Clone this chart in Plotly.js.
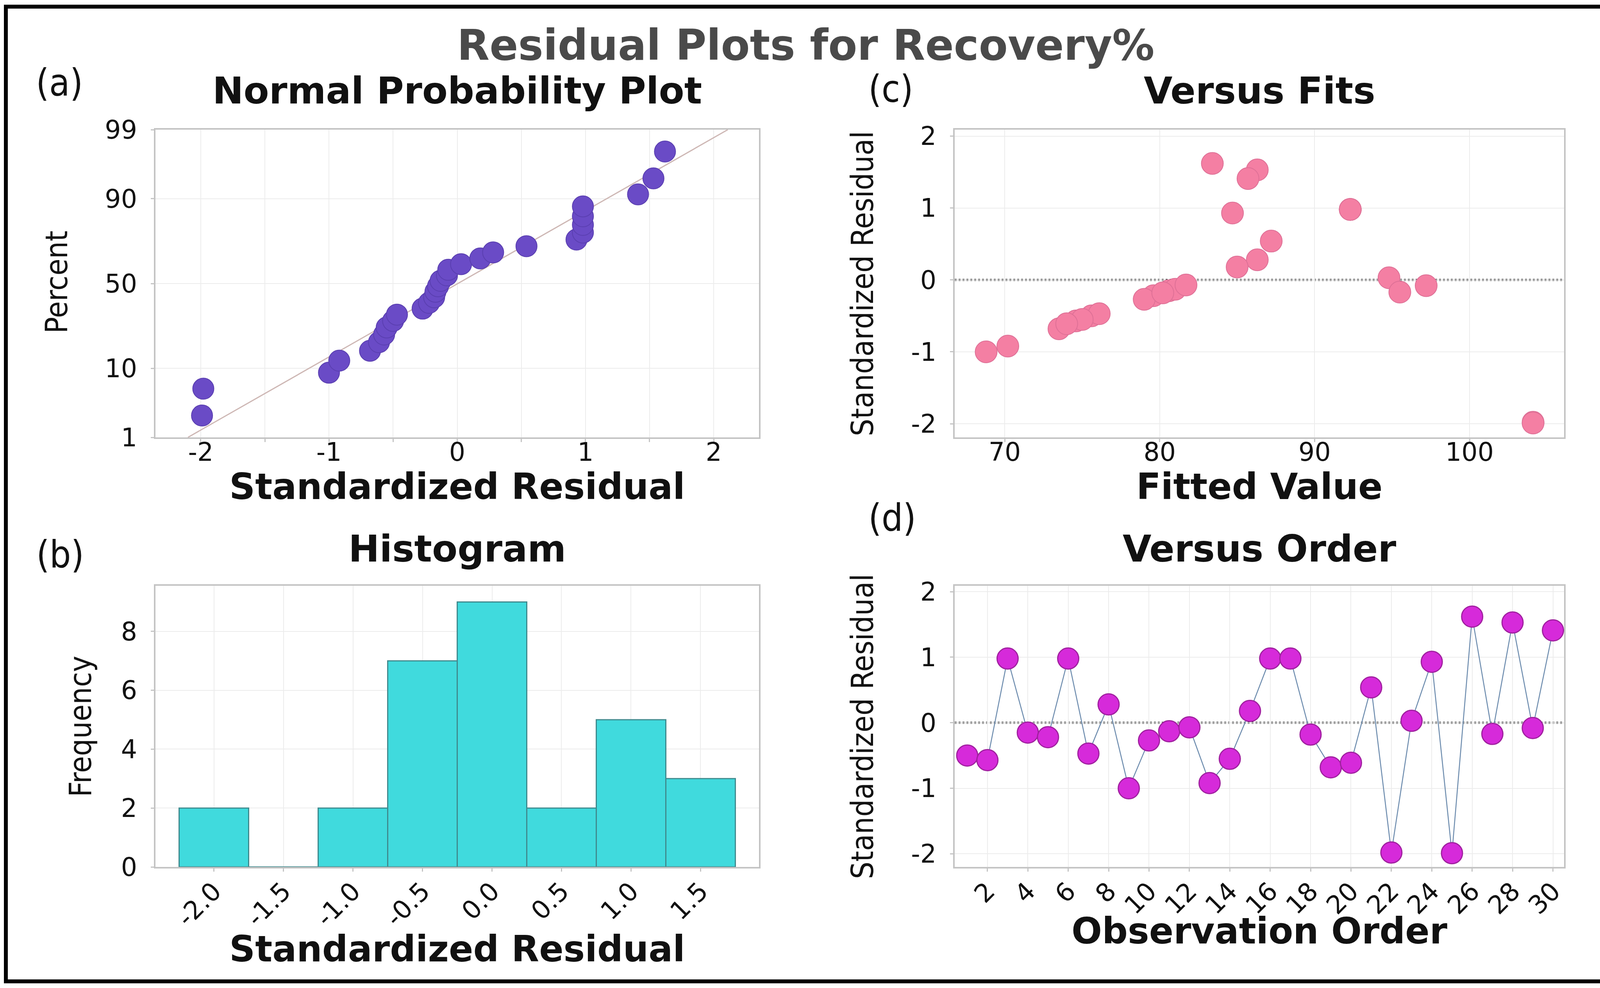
<!DOCTYPE html>
<html>
<head>
<meta charset="utf-8">
<script src="https://cdn.plot.ly/plotly-3.0.1.min.js"></script>
<style>html,body{margin:0;padding:0;background:#fff;}</style>
</head>
<body>
<div id="chart" style="width:4135px;height:2530px;"></div>
<script>
// ---------------- data ----------------
const observationOrder = [1,2,3,4,5,6,7,8,9,10,11,12,13,14,15,16,17,18,19,20,21,22,23,24,25,26,27,28,29,30];
const standardizedResidual = [-0.50,-0.57,0.98,-0.15,-0.22,0.98,-0.47,0.28,-1.00,-0.27,-0.13,-0.07,-0.92,-0.55,0.18,0.98,0.98,-0.18,-0.68,-0.61,0.54,-1.98,0.03,0.93,-1.99,1.62,-0.17,1.53,-0.08,1.41];
const fittedValue = [75.6,74.6,92.3,80.6,79.6,92.3,76.1,86.3,68.8,79.0,81.0,81.7,70.2,75.0,85.0,92.3,92.3,80.2,73.5,74.0,87.2,104.1,94.8,84.7,104.1,83.4,95.5,86.3,97.2,85.7];
// normal probability plot: percent of each ordered residual
const percentRank = [2.30,5.59,8.88,12.17,15.46,18.75,22.04,25.33,28.62,31.91,35.20,38.49,41.78,45.07,48.36,51.64,54.93,58.22,61.51,64.80,68.09,71.38,74.67,77.96,81.25,84.54,87.83,91.12,94.41,97.70];
// fitted normal reference line (residual at 1% and 99%)
const fitLineResidual = [-2.10, 2.11];
const fitLinePercent = [1, 99];
// histogram
const histBinCenters = [-2.0,-1.5,-1.0,-0.5,0.0,0.5,1.0,1.5];
const histCounts = [2,0,2,7,9,2,5,3];
const histTickLabels = ['-2.0','-1.5','-1.0','-0.5','0.0','0.5','1.0','1.5'];
// tick labels
const probTickPercent = [1,10,50,90,99];
const probTickLabels = ['1','10','50','90','99'];
const npTickVals = [-2,-1.5,-1,-0.5,0,0.5,1,1.5,2];
const npTickLabels = ['-2','','-1','','0','','1','','2'];
const fitTickVals = [70,80,90,100];
const residTickVals = [-2,-1,0,1,2];
const residTickLabels = ['-2','-1','0','1','2'];
const orderTickVals = [2,4,6,8,10,12,14,16,18,20,22,24,26,28,30];
const freqTickVals = [0,2,4,6,8];

// ---------------- probability-axis scale (inverse normal CDF) ----------------
function probit(p){
  const a=[-3.969683028665376e+01,2.209460984245205e+02,-2.759285104469687e+02,1.383577518672690e+02,-3.066479806614716e+01,2.506628277459239e+00];
  const b=[-5.447609879822406e+01,1.615858368580409e+02,-1.556989798598866e+02,6.680131188771972e+01,-1.328068155288572e+01];
  const c=[-7.784894002430293e-03,-3.223964580411365e-01,-2.400758277161838e+00,-2.549732539343734e+00,4.374664141464968e+00,2.938163982698783e+00];
  const d=[7.784695709041462e-03,3.224671290700398e-01,2.445134137142996e+00,3.754408661907416e+00];
  const pl=0.02425, ph=1-pl; let q,r;
  if(p<pl){q=Math.sqrt(-2*Math.log(p));return (((((c[0]*q+c[1])*q+c[2])*q+c[3])*q+c[4])*q+c[5])/((((d[0]*q+d[1])*q+d[2])*q+d[3])*q+1);}
  if(p<=ph){q=p-0.5;r=q*q;return (((((a[0]*r+a[1])*r+a[2])*r+a[3])*r+a[4])*r+a[5])*q/(((((b[0]*r+b[1])*r+b[2])*r+b[3])*r+b[4])*r+1);}
  q=Math.sqrt(-2*Math.log(1-p));return -(((((c[0]*q+c[1])*q+c[2])*q+c[3])*q+c[4])*q+c[5])/((((d[0]*q+d[1])*q+d[2])*q+d[3])*q+1);
}
const sortedResidual = standardizedResidual.slice().sort((u,v)=>u-v);

// ---------------- styling ----------------
const W=4135, H=2530;
const px = v => v/W, py = v => 1 - v/H;
const colA=[px(398),px(1943)], colB=[px(2444),px(4004)];
const rowTop=[py(1120),py(332)], rowBot=[py(2220),py(1500)];
const tickFont={family:'DejaVu Sans, Verdana, sans-serif', size:65, color:'#111'};
const titleFont={family:'DejaVu Sans, Verdana, sans-serif', size:92, color:'#111', weight:'bold'};
const vtitleFont={family:'Liberation Sans Narrow, DejaVu Sans Condensed, Liberation Sans, sans-serif', size:78, color:'#111'};
const labFont={family:'Liberation Sans Narrow, DejaVu Sans Condensed, Liberation Sans, sans-serif', size:96, color:'#111'};
const axBase={showline:true, mirror:true, linecolor:'#c4c4c4', linewidth:4, showgrid:true,
  gridcolor:'#ececec', gridwidth:2, zeroline:false, ticks:'outside', ticklen:8, tickwidth:3,
  tickcolor:'#c4c4c4', tickfont:tickFont, tickmode:'array', fixedrange:true};

const traces=[
  {type:'scatter', mode:'lines', x:fitLineResidual, y:fitLinePercent.map(p=>probit(p/100)),
   xaxis:'x', yaxis:'y', line:{color:'#cdb6b3', width:3}, hoverinfo:'skip'},
  {type:'scatter', mode:'markers', x:sortedResidual, y:percentRank.map(p=>probit(p/100)),
   xaxis:'x', yaxis:'y', marker:{color:'#6a4bc6', size:54, line:{color:'#5a3fb0', width:2}}},
  {type:'scatter', mode:'markers', x:fittedValue, y:standardizedResidual,
   xaxis:'x2', yaxis:'y2', marker:{color:'#f47fa3', size:56, line:{color:'#de7096', width:2}}},
  {type:'bar', x:histBinCenters, y:histCounts, width:0.5, xaxis:'x3', yaxis:'y3',
   marker:{color:'#40dadd', line:{color:'#3f8a8e', width:3}}},
  {type:'scatter', mode:'lines+markers', x:observationOrder, y:standardizedResidual,
   xaxis:'x4', yaxis:'y4', line:{color:'#6d8cae', width:2.5},
   marker:{color:'#d62ada', size:54, line:{color:'#a0209f', width:3}}}
];

const layout={
  width:W, height:H, margin:{l:0,r:0,t:0,b:0}, showlegend:false,
  paper_bgcolor:'#ffffff', plot_bgcolor:'#ffffff',
  xaxis:Object.assign({},axBase,{domain:colA, anchor:'y', range:[-2.353,2.353],
    tickvals:npTickVals, ticktext:npTickLabels, ticklabelstandoff:-30}),
  yaxis:Object.assign({},axBase,{domain:rowTop, anchor:'x', range:[probit(0.01),probit(0.99)],
    tickvals:probTickPercent.map(p=>probit(p/100)), ticktext:probTickLabels, ticklabelstandoff:22}),
  xaxis2:Object.assign({},axBase,{domain:colB, anchor:'y2', range:[66.77,106.1],
    tickvals:fitTickVals, ticktext:fitTickVals.map(String), ticklabelstandoff:-30}),
  yaxis2:Object.assign({},axBase,{domain:rowTop, anchor:'x2', range:[-2.19,2.09],
    tickvals:residTickVals, ticktext:residTickLabels, ticklabelstandoff:22}),
  xaxis3:Object.assign({},axBase,{domain:colA, anchor:'y3', range:[-2.42,1.92],
    tickvals:histBinCenters, ticktext:histTickLabels, tickangle:-45, ticklabelstandoff:-14}),
  yaxis3:Object.assign({},axBase,{domain:rowBot, anchor:'x3', range:[0,9.55],
    tickvals:freqTickVals, ticktext:freqTickVals.map(String), ticklabelstandoff:22}),
  xaxis4:Object.assign({},axBase,{domain:colB, anchor:'y4', range:[0.38,30.55],
    tickvals:orderTickVals, ticktext:orderTickVals.map(String), tickangle:-45, ticklabelstandoff:-14}),
  yaxis4:Object.assign({},axBase,{domain:rowBot, anchor:'x4', range:[-2.2,2.09],
    tickvals:residTickVals, ticktext:residTickLabels, ticklabelstandoff:22}),
  shapes:[
    {type:'line', xref:'x2 domain', yref:'y2', x0:0, x1:1, y0:0, y1:0, line:{color:'#444', width:5, dash:'dot'}, layer:'below'},
    {type:'line', xref:'x4 domain', yref:'y4', x0:0, x1:1, y0:0, y1:0, line:{color:'#444', width:5, dash:'dot'}, layer:'below'},
    {type:'rect', xref:'paper', yref:'paper', x0:px(15), x1:px(4114), y0:py(2513), y1:py(17), line:{color:'#000', width:10}}
  ],
  annotations:[
    {text:'Residual Plots for Recovery%', x:px(2062), y:py(116), font:{family:'DejaVu Sans, Verdana, sans-serif', size:108, color:'#4a4a4a', weight:'bold'}},
    {text:'Normal Probability Plot', x:px(1170), y:py(232), font:Object.assign({},titleFont,{size:95})},
    {text:'Versus Fits', x:px(3224), y:py(232), font:Object.assign({},titleFont,{size:95})},
    {text:'Histogram', x:px(1170), y:py(1405), font:Object.assign({},titleFont,{size:95})},
    {text:'Versus Order', x:px(3224), y:py(1405), font:Object.assign({},titleFont,{size:95})},
    {text:'Standardized Residual', x:px(1170), y:py(1246), font:titleFont},
    {text:'Fitted Value', x:px(3224), y:py(1246), font:titleFont},
    {text:'Standardized Residual', x:px(1170), y:py(2430), font:titleFont},
    {text:'Observation Order', x:px(3224), y:py(2384), font:titleFont},
    {text:'Percent', x:px(145), y:py(722), textangle:-90, font:vtitleFont},
    {text:'Frequency', x:px(206), y:py(1860), textangle:-90, font:vtitleFont},
    {text:'Standardized Residual', x:px(2208), y:py(726), textangle:-90, font:vtitleFont},
    {text:'Standardized Residual', x:px(2208), y:py(1860), textangle:-90, font:vtitleFont},
    {text:'(a)', x:px(152), y:py(212), font:labFont},
    {text:'(b)', x:px(154), y:py(1420), font:labFont},
    {text:'(c)', x:px(2280), y:py(228), font:labFont},
    {text:'(d)', x:px(2284), y:py(1326), font:labFont}
  ].map(a=>Object.assign({xref:'paper', yref:'paper', showarrow:false, xanchor:'center', yanchor:'middle'},a))
};

Plotly.newPlot('chart', traces, layout, {displayModeBar:false, staticPlot:true});
</script>
</body>
</html>
